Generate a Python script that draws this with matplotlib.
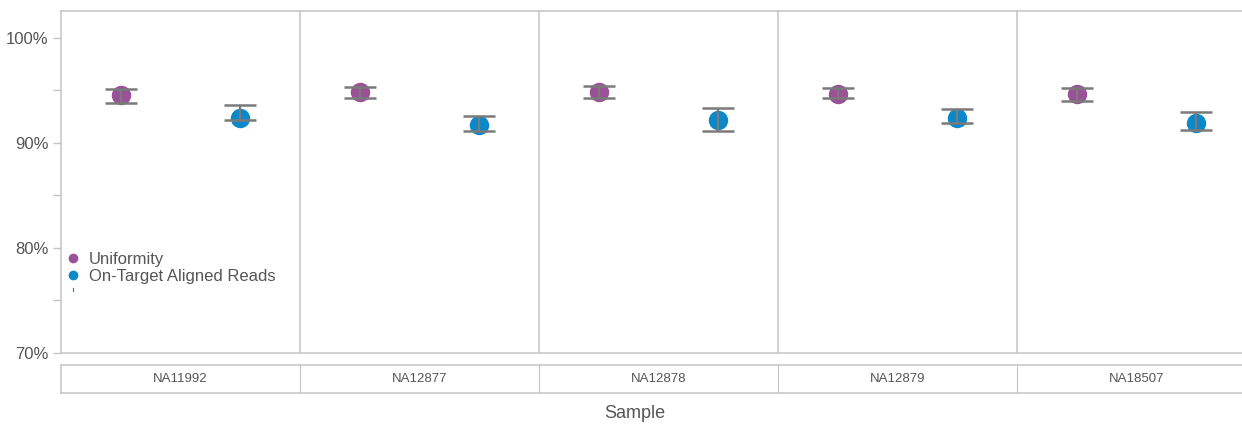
import matplotlib
matplotlib.use("Agg")
import matplotlib.pyplot as plt
from matplotlib.lines import Line2D

# Per-sample metrics (percent): point estimate with lower / upper bounds
samples = ["NA11992", "NA12877", "NA12878", "NA12879", "NA18507"]
series_names = ["Uniformity", "On-Target Aligned Reads"]

uniformity = [94.57, 94.89, 94.89, 94.67, 94.67]
uniformity_low = [93.84, 94.26, 94.26, 94.26, 94.03]
uniformity_high = [95.11, 95.36, 95.43, 95.21, 95.21]

on_target = [92.35, 91.71, 92.19, 92.35, 91.86]
on_target_low = [92.19, 91.14, 91.14, 91.93, 91.24]
on_target_high = [93.59, 92.57, 93.36, 93.20, 92.98]

y_ticks = [70, 80, 90, 100]
y_tick_labels = ["70%", "80%", "90%", "100%"]
x_label = "Sample"

purple = "#9b5197"
blue = "#0a88c9"
err_gray = "#7a7a7a"
frame_gray = "#c4c4c4"
text_gray = "#555555"

plt.rcParams["font.family"] = ["Liberation Sans", "DejaVu Sans"]

W, H = 1242, 424
fig = plt.figure(figsize=(W / 100, H / 100), dpi=100)

def box(l, t, r, b):
    return [l / W, 1 - b / H, (r - l) / W, (b - t) / H]

# five equal panels; the last one runs past the right edge of the canvas
PANEL_L, PANEL_R = 61, 1256
ax = fig.add_axes(box(PANEL_L, 11, PANEL_R, 353))
n = len(samples)
ax.set_xlim(0, n)
ax.set_ylim(70, 102.57)

for i in range(n):
    for x, v, lo, hi, c in [
        (i + 0.25, uniformity[i], uniformity_low[i], uniformity_high[i], purple),
        (i + 0.75, on_target[i], on_target_low[i], on_target_high[i], blue),
    ]:
        ax.plot([x], [v], "o", color=c, markersize=14, zorder=2,
                markeredgewidth=0)
        ax.errorbar([x], [v], yerr=[[v - lo], [hi - v]], fmt="none",
                    ecolor=err_gray, elinewidth=1.6, capsize=11.5,
                    capthick=1.8, zorder=3)

for i in range(1, n):
    ax.axvline(i, color=frame_gray, lw=1.1, zorder=1)

for side in ["left", "top", "bottom"]:
    ax.spines[side].set_color(frame_gray)
    ax.spines[side].set_linewidth(1.1)
ax.spines["right"].set_visible(False)

ax.set_xticks([])
ax.set_yticks(y_ticks)
ax.set_yticklabels(y_tick_labels)
ax.set_yticks([75, 85, 95], minor=True)
ax.tick_params(axis="y", which="both", length=6, width=1, color=frame_gray,
               labelsize=12, labelcolor=text_gray, pad=3)

handles = [
    Line2D([], [], marker="o", ls="none", color=purple, markersize=7,
           markeredgewidth=0),
    Line2D([], [], marker="o", ls="none", color=blue, markersize=7,
           markeredgewidth=0),
]
leg = ax.legend(handles, series_names, loc="upper left",
                bbox_to_anchor=(-0.004, 0.33), frameon=False,
                fontsize=12, handlelength=0.6, handletextpad=0.65,
                labelspacing=0.15, borderaxespad=0.3)
for t in leg.get_texts():
    t.set_color(text_gray)
# small blue tick under the legend entries
ax.plot([12 / 1195, 12 / 1195], [0.18, 0.19], transform=ax.transAxes,
        color=blue, lw=0.8, clip_on=False)

# sample strip below the panels
sx = fig.add_axes(box(PANEL_L, 365, PANEL_R, 393))
sx.set_xlim(0, n)
sx.set_ylim(0, 1)
sx.set_xticks([])
sx.set_yticks([])
for side in ["left", "top", "bottom"]:
    sx.spines[side].set_color(frame_gray)
    sx.spines[side].set_linewidth(1.1)
sx.spines["right"].set_visible(False)
for i, s in enumerate(samples):
    sx.text(i + 0.5, 0.5, s, ha="center", va="center", fontsize=9.5,
            color=text_gray)
    if i > 0:
        sx.axvline(i, color=frame_gray, lw=0.8)

fig.text(635 / W, 1 - 413 / H, x_label, ha="center", va="center",
         fontsize=13, color=text_gray)

fig.savefig("out.png", dpi=100)
